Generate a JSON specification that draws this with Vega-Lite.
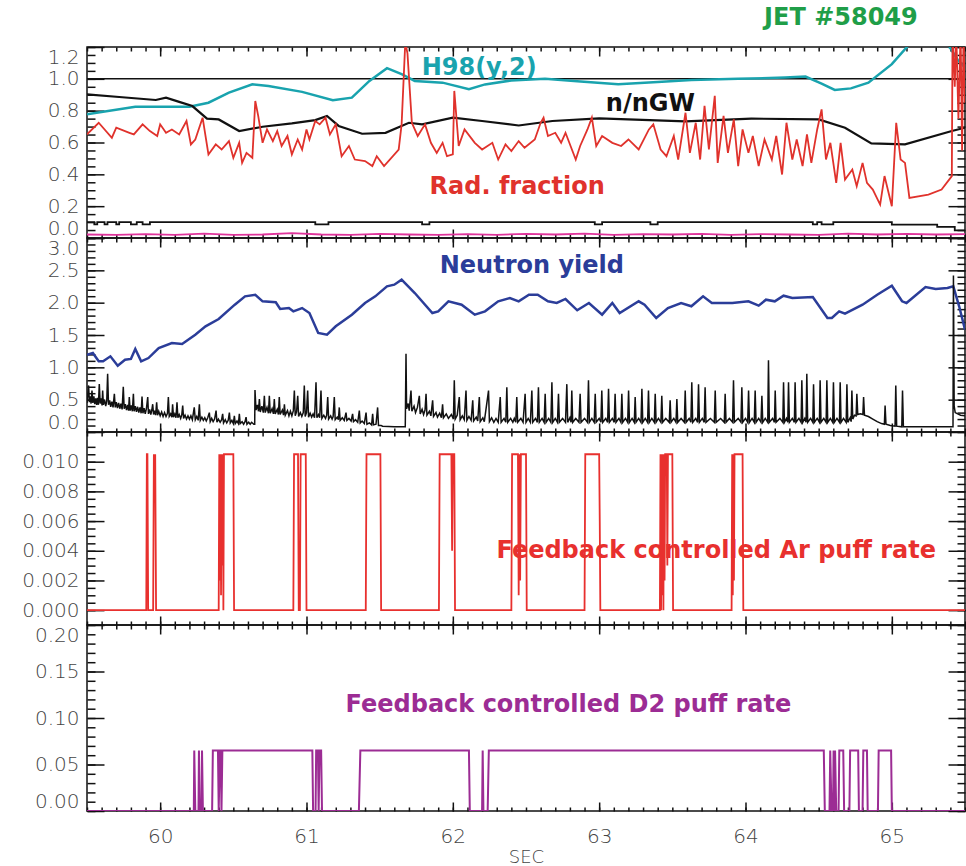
{
"$schema":"https://vega.github.io/schema/vega-lite/v6.json",
"background":"white",
"padding":{"left":20,"top":5,"right":3,"bottom":3},
"spacing":0,
"bounds":"flush",
"config":{
"view":{"stroke":"#111","strokeWidth":1.5},
"axis":{"zindex":2,"grid":false,"domain":false,"ticks":true,"tickColor":"#111","tickWidth":1.5,"tickOpacity":1,"tickRound":false,"labelFont":"DejaVu Sans","labelFontSize":20,"labelFontWeight":300,"labelColor":"#444","labelOverlap":false,"titleFont":"DejaVu Sans","titleFontWeight":300,"titleColor":"#444","titleFontSize":18},
"text":{"font":"DejaVu Sans","fontWeight":"bold","fontSize":24}
},
"datasets":{
"h98":[{"t":59.50,"v":0.777},{"t":59.83,"v":0.825},{"t":60.20,"v":0.825},{"t":60.33,"v":0.850},{"t":60.47,"v":0.913},{"t":60.63,"v":0.966},{"t":60.74,"v":0.955},{"t":60.97,"v":0.918},{"t":61.18,"v":0.865},{"t":61.31,"v":0.882},{"t":61.43,"v":0.987},{"t":61.55,"v":1.067},{"t":61.65,"v":1.029},{"t":61.74,"v":0.987},{"t":61.93,"v":0.976},{"t":62.11,"v":0.935},{"t":62.22,"v":0.965},{"t":62.40,"v":0.99},{"t":62.63,"v":1.0},{"t":62.85,"v":0.985},{"t":63.13,"v":0.966},{"t":63.40,"v":0.98},{"t":63.63,"v":0.993},{"t":63.95,"v":1.0},{"t":64.27,"v":1.008},{"t":64.41,"v":1.014},{"t":64.52,"v":0.97},{"t":64.61,"v":0.930},{"t":64.72,"v":0.94},{"t":64.84,"v":0.976},{"t":65.00,"v":1.092},{"t":65.11,"v":1.207},{"t":65.25,"v":1.40},{"t":65.39,"v":1.207},{"t":65.45,"v":1.12},{"t":65.50,"v":1.071}],
"ngw":[{"t":59.50,"v":0.903},{"t":59.72,"v":0.886},{"t":59.97,"v":0.867},{"t":60.04,"v":0.882},{"t":60.13,"v":0.855},{"t":60.22,"v":0.829},{"t":60.32,"v":0.750},{"t":60.40,"v":0.745},{"t":60.54,"v":0.672},{"t":60.70,"v":0.699},{"t":60.90,"v":0.720},{"t":61.06,"v":0.741},{"t":61.14,"v":0.767},{"t":61.22,"v":0.704},{"t":61.38,"v":0.655},{"t":61.54,"v":0.661},{"t":61.70,"v":0.724},{"t":61.79,"v":0.714},{"t":62.00,"v":0.756},{"t":62.20,"v":0.735},{"t":62.45,"v":0.707},{"t":62.68,"v":0.735},{"t":63.00,"v":0.751},{"t":63.59,"v":0.733},{"t":64.04,"v":0.750},{"t":64.50,"v":0.745},{"t":64.68,"v":0.693},{"t":64.86,"v":0.594},{"t":65.09,"v":0.588},{"t":65.41,"v":0.672},{"t":65.50,"v":0.693}],
"rad":[{"t":59.50,"v":0.651},{"t":59.58,"v":0.724},{"t":59.67,"v":0.630},{"t":59.70,"v":0.693},{"t":59.79,"v":0.661},{"t":59.82,"v":0.651},{"t":59.88,"v":0.714},{"t":59.93,"v":0.672},{"t":59.98,"v":0.641},{"t":60.00,"v":0.714},{"t":60.04,"v":0.661},{"t":60.08,"v":0.682},{"t":60.13,"v":0.651},{"t":60.18,"v":0.735},{"t":60.21,"v":0.588},{"t":60.24,"v":0.619},{"t":60.29,"v":0.756},{"t":60.33,"v":0.525},{"t":60.38,"v":0.588},{"t":60.42,"v":0.556},{"t":60.47,"v":0.609},{"t":60.50,"v":0.504},{"t":60.54,"v":0.598},{"t":60.56,"v":0.472},{"t":60.59,"v":0.535},{"t":60.63,"v":0.504},{"t":60.65,"v":0.861},{"t":60.67,"v":0.767},{"t":60.70,"v":0.598},{"t":60.73,"v":0.682},{"t":60.77,"v":0.609},{"t":60.80,"v":0.672},{"t":60.83,"v":0.578},{"t":60.87,"v":0.641},{"t":60.90,"v":0.525},{"t":60.94,"v":0.619},{"t":60.97,"v":0.556},{"t":61.00,"v":0.682},{"t":61.02,"v":0.619},{"t":61.06,"v":0.735},{"t":61.09,"v":0.714},{"t":61.13,"v":0.756},{"t":61.16,"v":0.651},{"t":61.20,"v":0.714},{"t":61.24,"v":0.514},{"t":61.29,"v":0.578},{"t":61.33,"v":0.493},{"t":61.40,"v":0.483},{"t":61.45,"v":0.452},{"t":61.48,"v":0.514},{"t":61.53,"v":0.452},{"t":61.63,"v":0.556},{"t":61.65,"v":0.714},{"t":61.675,"v":1.23},{"t":61.69,"v":1.16},{"t":61.72,"v":0.724},{"t":61.76,"v":0.641},{"t":61.81,"v":0.714},{"t":61.85,"v":0.598},{"t":61.89,"v":0.535},{"t":61.93,"v":0.598},{"t":61.96,"v":0.514},{"t":62.00,"v":0.525},{"t":62.01,"v":0.924},{"t":62.04,"v":0.578},{"t":62.08,"v":0.682},{"t":62.15,"v":0.598},{"t":62.20,"v":0.556},{"t":62.27,"v":0.598},{"t":62.31,"v":0.493},{"t":62.36,"v":0.588},{"t":62.40,"v":0.546},{"t":62.45,"v":0.609},{"t":62.49,"v":0.567},{"t":62.56,"v":0.619},{"t":62.60,"v":0.724},{"t":62.62,"v":0.756},{"t":62.65,"v":0.641},{"t":62.70,"v":0.661},{"t":62.74,"v":0.598},{"t":62.77,"v":0.661},{"t":62.84,"v":0.493},{"t":62.87,"v":0.578},{"t":62.92,"v":0.682},{"t":62.95,"v":0.756},{"t":62.98,"v":0.578},{"t":63.02,"v":0.641},{"t":63.09,"v":0.598},{"t":63.15,"v":0.578},{"t":63.20,"v":0.619},{"t":63.27,"v":0.556},{"t":63.34,"v":0.682},{"t":63.37,"v":0.714},{"t":63.42,"v":0.556},{"t":63.46,"v":0.514},{"t":63.51,"v":0.641},{"t":63.54,"v":0.493},{"t":63.59,"v":0.787},{"t":63.62,"v":0.535},{"t":63.66,"v":0.724},{"t":63.69,"v":0.493},{"t":63.72,"v":0.830},{"t":63.75,"v":0.556},{"t":63.79,"v":0.893},{"t":63.81,"v":0.472},{"t":63.85,"v":0.767},{"t":63.88,"v":0.535},{"t":63.92,"v":0.745},{"t":63.95,"v":0.452},{"t":63.98,"v":0.682},{"t":64.02,"v":0.535},{"t":64.05,"v":0.641},{"t":64.09,"v":0.452},{"t":64.13,"v":0.619},{"t":64.18,"v":0.493},{"t":64.21,"v":0.641},{"t":64.25,"v":0.399},{"t":64.28,"v":0.724},{"t":64.32,"v":0.493},{"t":64.35,"v":0.619},{"t":64.39,"v":0.452},{"t":64.42,"v":0.651},{"t":64.45,"v":0.472},{"t":64.49,"v":0.682},{"t":64.52,"v":0.808},{"t":64.55,"v":0.493},{"t":64.58,"v":0.598},{"t":64.62,"v":0.346},{"t":64.65,"v":0.598},{"t":64.68,"v":0.367},{"t":64.73,"v":0.430},{"t":64.76,"v":0.326},{"t":64.80,"v":0.472},{"t":64.83,"v":0.346},{"t":64.87,"v":0.304},{"t":64.92,"v":0.210},{"t":64.95,"v":0.389},{"t":65.00,"v":0.200},{"t":65.03,"v":0.724},{"t":65.06,"v":0.493},{"t":65.09,"v":0.472},{"t":65.12,"v":0.252},{"t":65.25,"v":0.273},{"t":65.34,"v":0.304},{"t":65.41,"v":0.389},{"t":65.415,"v":1.30},{"t":65.43,"v":0.95},{"t":65.44,"v":1.30},{"t":65.455,"v":0.75},{"t":65.47,"v":1.30},{"t":65.48,"v":0.55},{"t":65.49,"v":1.30},{"t":65.50,"v":0.85}],
"low":[{"t":59.50,"v":0.10},{"t":59.55,"v":0.086},{"t":59.57,"v":0.10},{"t":59.62,"v":0.086},{"t":59.64,"v":0.10},{"t":59.70,"v":0.086},{"t":59.72,"v":0.10},{"t":59.80,"v":0.086},{"t":59.84,"v":0.10},{"t":59.88,"v":0.086},{"t":59.93,"v":0.10},{"t":61.06,"v":0.086},{"t":61.15,"v":0.10},{"t":61.79,"v":0.086},{"t":61.84,"v":0.10},{"t":62.97,"v":0.086},{"t":63.02,"v":0.10},{"t":63.35,"v":0.086},{"t":63.40,"v":0.10},{"t":64.46,"v":0.086},{"t":64.49,"v":0.10},{"t":64.52,"v":0.086},{"t":64.60,"v":0.10},{"t":65.00,"v":0.084},{"t":65.31,"v":0.07},{"t":65.43,"v":0.048},{"t":65.50,"v":0.048}],
"mag":[{"t":59.5,"v":0.022},{"t":59.7,"v":0.020},{"t":59.9,"v":0.024},{"t":60.1,"v":0.020},{"t":60.3,"v":0.028},{"t":60.5,"v":0.020},{"t":60.7,"v":0.022},{"t":60.9,"v":0.030},{"t":61.1,"v":0.022},{"t":61.3,"v":0.020},{"t":61.5,"v":0.026},{"t":61.7,"v":0.022},{"t":61.9,"v":0.020},{"t":62.1,"v":0.024},{"t":62.3,"v":0.020},{"t":62.5,"v":0.026},{"t":62.7,"v":0.022},{"t":62.9,"v":0.028},{"t":63.1,"v":0.020},{"t":63.3,"v":0.024},{"t":63.5,"v":0.022},{"t":63.7,"v":0.026},{"t":63.9,"v":0.020},{"t":64.1,"v":0.024},{"t":64.3,"v":0.022},{"t":64.5,"v":0.020},{"t":64.7,"v":0.028},{"t":64.9,"v":0.022},{"t":65.1,"v":0.026},{"t":65.3,"v":0.022},{"t":65.5,"v":0.024}],
"neut":[{"t":59.50,"v":1.195},{"t":59.54,"v":1.222},{"t":59.58,"v":1.093},{"t":59.61,"v":1.093},{"t":59.66,"v":1.170},{"t":59.71,"v":1.026},{"t":59.76,"v":1.118},{"t":59.80,"v":1.13},{"t":59.83,"v":1.283},{"t":59.87,"v":1.093},{"t":59.92,"v":1.144},{"t":59.99,"v":1.299},{"t":60.08,"v":1.376},{"t":60.15,"v":1.361},{"t":60.24,"v":1.505},{"t":60.31,"v":1.634},{"t":60.40,"v":1.747},{"t":60.51,"v":1.969},{"t":60.58,"v":2.098},{"t":60.65,"v":2.123},{"t":60.70,"v":2.021},{"t":60.79,"v":2.006},{"t":60.82,"v":1.902},{"t":60.88,"v":1.917},{"t":60.91,"v":1.866},{"t":60.97,"v":1.917},{"t":61.02,"v":1.840},{"t":61.08,"v":1.531},{"t":61.14,"v":1.505},{"t":61.20,"v":1.634},{"t":61.31,"v":1.814},{"t":61.40,"v":1.995},{"t":61.47,"v":2.098},{"t":61.55,"v":2.253},{"t":61.60,"v":2.278},{"t":61.65,"v":2.355},{"t":61.74,"v":2.149},{"t":61.86,"v":1.840},{"t":61.90,"v":1.866},{"t":61.97,"v":2.021},{"t":62.06,"v":1.969},{"t":62.15,"v":1.814},{"t":62.22,"v":1.866},{"t":62.31,"v":2.021},{"t":62.39,"v":2.072},{"t":62.45,"v":2.021},{"t":62.52,"v":2.123},{"t":62.58,"v":2.123},{"t":62.65,"v":2.021},{"t":62.71,"v":1.995},{"t":62.77,"v":2.057},{"t":62.85,"v":1.882},{"t":62.93,"v":1.995},{"t":63.02,"v":1.814},{"t":63.09,"v":1.995},{"t":63.14,"v":1.840},{"t":63.27,"v":2.021},{"t":63.31,"v":1.969},{"t":63.39,"v":1.763},{"t":63.47,"v":1.917},{"t":63.56,"v":1.995},{"t":63.63,"v":1.944},{"t":63.71,"v":2.098},{"t":63.77,"v":1.995},{"t":63.91,"v":1.995},{"t":64.02,"v":2.021},{"t":64.09,"v":1.954},{"t":64.14,"v":2.046},{"t":64.20,"v":2.021},{"t":64.26,"v":2.108},{"t":64.32,"v":2.072},{"t":64.46,"v":2.088},{"t":64.56,"v":1.763},{"t":64.59,"v":1.763},{"t":64.64,"v":1.866},{"t":64.68,"v":1.830},{"t":64.80,"v":1.969},{"t":64.90,"v":2.123},{"t":65.00,"v":2.262},{"t":65.07,"v":2.021},{"t":65.10,"v":1.995},{"t":65.23,"v":2.242},{"t":65.30,"v":2.211},{"t":65.38,"v":2.227},{"t":65.42,"v":2.253},{"t":65.46,"v":1.944},{"t":65.50,"v":1.582}],
"raw":[{"t":59.500,"v":0.45},{"t":59.506,"v":0.60},{"t":59.511,"v":0.72},{"t":59.516,"v":0.46},{"t":59.522,"v":0.55},{"t":59.528,"v":0.44},{"t":59.534,"v":0.64},{"t":59.540,"v":0.45},{"t":59.547,"v":0.55},{"t":59.553,"v":0.43},{"t":59.560,"v":0.52},{"t":59.566,"v":0.42},{"t":59.572,"v":0.53},{"t":59.578,"v":0.42},{"t":59.584,"v":0.74},{"t":59.590,"v":0.44},{"t":59.597,"v":0.52},{"t":59.603,"v":0.41},{"t":59.607,"v":0.64},{"t":59.612,"v":0.42},{"t":59.620,"v":0.50},{"t":59.628,"v":0.40},{"t":59.635,"v":0.48},{"t":59.641,"v":0.90},{"t":59.647,"v":0.42},{"t":59.655,"v":0.49},{"t":59.662,"v":0.39},{"t":59.670,"v":0.47},{"t":59.678,"v":0.38},{"t":59.687,"v":0.59},{"t":59.693,"v":0.38},{"t":59.700,"v":0.46},{"t":59.708,"v":0.37},{"t":59.716,"v":0.45},{"t":59.724,"v":0.36},{"t":59.732,"v":0.44},{"t":59.740,"v":0.35},{"t":59.748,"v":0.70},{"t":59.754,"v":0.36},{"t":59.762,"v":0.43},{"t":59.770,"v":0.34},{"t":59.778,"v":0.42},{"t":59.784,"v":0.33},{"t":59.789,"v":0.54},{"t":59.795,"v":0.33},{"t":59.803,"v":0.41},{"t":59.810,"v":0.32},{"t":59.817,"v":0.59},{"t":59.822,"v":0.32},{"t":59.830,"v":0.40},{"t":59.838,"v":0.31},{"t":59.846,"v":0.39},{"t":59.854,"v":0.30},{"t":59.862,"v":0.38},{"t":59.870,"v":0.29},{"t":59.876,"v":0.55},{"t":59.882,"v":0.29},{"t":59.890,"v":0.37},{"t":59.898,"v":0.28},{"t":59.906,"v":0.36},{"t":59.915,"v":0.54},{"t":59.920,"v":0.28},{"t":59.928,"v":0.35},{"t":59.936,"v":0.27},{"t":59.943,"v":0.34},{"t":59.949,"v":0.43},{"t":59.955,"v":0.27},{"t":59.962,"v":0.33},{"t":59.969,"v":0.26},{"t":59.976,"v":0.46},{"t":59.982,"v":0.26},{"t":59.990,"v":0.32},{"t":60.000,"v":0.25},{"t":60.010,"v":0.31},{"t":60.020,"v":0.24},{"t":60.030,"v":0.30},{"t":60.040,"v":0.24},{"t":60.050,"v":0.29},{"t":60.056,"v":0.54},{"t":60.062,"v":0.24},{"t":60.072,"v":0.28},{"t":60.080,"v":0.23},{"t":60.085,"v":0.43},{"t":60.091,"v":0.23},{"t":60.100,"v":0.28},{"t":60.108,"v":0.22},{"t":60.115,"v":0.46},{"t":60.121,"v":0.22},{"t":60.130,"v":0.27},{"t":60.140,"v":0.21},{"t":60.148,"v":0.27},{"t":60.154,"v":0.41},{"t":60.160,"v":0.21},{"t":60.170,"v":0.26},{"t":60.180,"v":0.20},{"t":60.190,"v":0.25},{"t":60.200,"v":0.20},{"t":60.210,"v":0.25},{"t":60.220,"v":0.19},{"t":60.233,"v":0.38},{"t":60.240,"v":0.19},{"t":60.250,"v":0.24},{"t":60.260,"v":0.18},{"t":60.268,"v":0.43},{"t":60.274,"v":0.18},{"t":60.285,"v":0.23},{"t":60.295,"v":0.18},{"t":60.305,"v":0.22},{"t":60.315,"v":0.17},{"t":60.325,"v":0.22},{"t":60.336,"v":0.30},{"t":60.342,"v":0.16},{"t":60.352,"v":0.21},{"t":60.362,"v":0.16},{"t":60.372,"v":0.20},{"t":60.382,"v":0.33},{"t":60.388,"v":0.15},{"t":60.398,"v":0.20},{"t":60.410,"v":0.15},{"t":60.420,"v":0.19},{"t":60.427,"v":0.28},{"t":60.433,"v":0.14},{"t":60.445,"v":0.19},{"t":60.455,"v":0.14},{"t":60.465,"v":0.18},{"t":60.473,"v":0.30},{"t":60.479,"v":0.14},{"t":60.490,"v":0.18},{"t":60.500,"v":0.13},{"t":60.507,"v":0.25},{"t":60.513,"v":0.13},{"t":60.525,"v":0.17},{"t":60.535,"v":0.13},{"t":60.541,"v":0.28},{"t":60.547,"v":0.13},{"t":60.560,"v":0.16},{"t":60.570,"v":0.12},{"t":60.580,"v":0.16},{"t":60.587,"v":0.23},{"t":60.593,"v":0.12},{"t":60.605,"v":0.15},{"t":60.615,"v":0.12},{"t":60.625,"v":0.15},{"t":60.640,"v":0.12},{"t":60.646,"v":0.12},{"t":60.648,"v":0.65},{"t":60.655,"v":0.34},{"t":60.665,"v":0.42},{"t":60.672,"v":0.32},{"t":60.678,"v":0.51},{"t":60.684,"v":0.31},{"t":60.695,"v":0.40},{"t":60.705,"v":0.30},{"t":60.712,"v":0.56},{"t":60.718,"v":0.30},{"t":60.730,"v":0.38},{"t":60.740,"v":0.29},{"t":60.746,"v":0.56},{"t":60.752,"v":0.29},{"t":60.765,"v":0.36},{"t":60.774,"v":0.28},{"t":60.780,"v":0.51},{"t":60.786,"v":0.28},{"t":60.800,"v":0.35},{"t":60.808,"v":0.27},{"t":60.814,"v":0.54},{"t":60.820,"v":0.27},{"t":60.835,"v":0.34},{"t":60.843,"v":0.26},{"t":60.849,"v":0.43},{"t":60.855,"v":0.26},{"t":60.870,"v":0.33},{"t":60.880,"v":0.25},{"t":60.890,"v":0.32},{"t":60.900,"v":0.25},{"t":60.910,"v":0.33},{"t":60.917,"v":0.64},{"t":60.923,"v":0.25},{"t":60.932,"v":0.31},{"t":60.940,"v":0.56},{"t":60.946,"v":0.24},{"t":60.958,"v":0.30},{"t":60.968,"v":0.24},{"t":60.978,"v":0.30},{"t":60.985,"v":0.72},{"t":60.991,"v":0.24},{"t":61.000,"v":0.30},{"t":61.008,"v":0.64},{"t":61.014,"v":0.23},{"t":61.025,"v":0.29},{"t":61.035,"v":0.23},{"t":61.045,"v":0.28},{"t":61.055,"v":0.22},{"t":61.065,"v":0.77},{"t":61.071,"v":0.22},{"t":61.082,"v":0.27},{"t":61.090,"v":0.22},{"t":61.099,"v":0.64},{"t":61.105,"v":0.21},{"t":61.118,"v":0.26},{"t":61.130,"v":0.21},{"t":61.138,"v":0.26},{"t":61.145,"v":0.54},{"t":61.151,"v":0.20},{"t":61.165,"v":0.25},{"t":61.175,"v":0.20},{"t":61.182,"v":0.24},{"t":61.190,"v":0.54},{"t":61.196,"v":0.19},{"t":61.210,"v":0.23},{"t":61.218,"v":0.19},{"t":61.224,"v":0.38},{"t":61.230,"v":0.18},{"t":61.245,"v":0.22},{"t":61.258,"v":0.18},{"t":61.270,"v":0.30},{"t":61.276,"v":0.18},{"t":61.290,"v":0.21},{"t":61.305,"v":0.17},{"t":61.315,"v":0.28},{"t":61.321,"v":0.16},{"t":61.335,"v":0.19},{"t":61.350,"v":0.15},{"t":61.361,"v":0.33},{"t":61.367,"v":0.14},{"t":61.380,"v":0.17},{"t":61.395,"v":0.13},{"t":61.407,"v":0.30},{"t":61.413,"v":0.12},{"t":61.430,"v":0.14},{"t":61.445,"v":0.11},{"t":61.452,"v":0.28},{"t":61.458,"v":0.11},{"t":61.475,"v":0.12},{"t":61.486,"v":0.38},{"t":61.492,"v":0.10},{"t":61.510,"v":0.10},{"t":61.520,"v":0.09},{"t":61.600,"v":0.08},{"t":61.675,"v":0.08},{"t":61.680,"v":1.21},{"t":61.684,"v":0.36},{"t":61.695,"v":0.44},{"t":61.702,"v":0.33},{"t":61.714,"v":0.64},{"t":61.720,"v":0.32},{"t":61.735,"v":0.40},{"t":61.745,"v":0.30},{"t":61.758,"v":0.38},{"t":61.771,"v":0.56},{"t":61.777,"v":0.28},{"t":61.790,"v":0.35},{"t":61.800,"v":0.27},{"t":61.810,"v":0.34},{"t":61.817,"v":0.59},{"t":61.823,"v":0.26},{"t":61.840,"v":0.32},{"t":61.850,"v":0.25},{"t":61.862,"v":0.49},{"t":61.868,"v":0.24},{"t":61.885,"v":0.30},{"t":61.895,"v":0.23},{"t":61.910,"v":0.29},{"t":61.922,"v":0.22},{"t":61.930,"v":0.43},{"t":61.936,"v":0.22},{"t":61.955,"v":0.28},{"t":61.970,"v":0.21},{"t":61.990,"v":0.27},{"t":62.004,"v":0.20},{"t":62.010,"v":0.80},{"t":62.016,"v":0.20},{"t":62.030,"v":0.26},{"t":62.044,"v":0.54},{"t":62.050,"v":0.19},{"t":62.065,"v":0.25},{"t":62.078,"v":0.19},{"t":62.090,"v":0.64},{"t":62.096,"v":0.18},{"t":62.110,"v":0.24},{"t":62.125,"v":0.18},{"t":62.136,"v":0.49},{"t":62.142,"v":0.17},{"t":62.160,"v":0.23},{"t":62.170,"v":0.17},{"t":62.181,"v":0.54},{"t":62.187,"v":0.16},{"t":62.205,"v":0.22},{"t":62.215,"v":0.16},{"t":62.244,"v":0.64},{"t":62.250,"v":0.16},{"t":62.265,"v":0.22},{"t":62.280,"v":0.15},{"t":62.295,"v":0.21},{"t":62.310,"v":0.15},{"t":62.324,"v":0.54},{"t":62.330,"v":0.15},{"t":62.350,"v":0.21},{"t":62.362,"v":0.15},{"t":62.369,"v":0.69},{"t":62.375,"v":0.15},{"t":62.395,"v":0.21},{"t":62.410,"v":0.15},{"t":62.420,"v":0.21},{"t":62.430,"v":0.15},{"t":62.437,"v":0.54},{"t":62.443,"v":0.15},{"t":62.465,"v":0.21},{"t":62.480,"v":0.15},{"t":62.494,"v":0.59},{"t":62.500,"v":0.15},{"t":62.515,"v":0.21},{"t":62.530,"v":0.15},{"t":62.540,"v":0.64},{"t":62.546,"v":0.15},{"t":62.565,"v":0.21},{"t":62.578,"v":0.15},{"t":62.585,"v":0.69},{"t":62.591,"v":0.15},{"t":62.610,"v":0.21},{"t":62.624,"v":0.15},{"t":62.631,"v":0.59},{"t":62.637,"v":0.15},{"t":62.655,"v":0.21},{"t":62.670,"v":0.15},{"t":62.677,"v":0.77},{"t":62.683,"v":0.15},{"t":62.700,"v":0.21},{"t":62.715,"v":0.15},{"t":62.722,"v":0.59},{"t":62.728,"v":0.15},{"t":62.750,"v":0.21},{"t":62.770,"v":0.15},{"t":62.779,"v":0.74},{"t":62.785,"v":0.15},{"t":62.800,"v":0.22},{"t":62.808,"v":0.15},{"t":62.813,"v":0.64},{"t":62.819,"v":0.15},{"t":62.840,"v":0.21},{"t":62.862,"v":0.15},{"t":62.870,"v":0.59},{"t":62.876,"v":0.15},{"t":62.900,"v":0.21},{"t":62.920,"v":0.15},{"t":62.927,"v":0.80},{"t":62.933,"v":0.15},{"t":62.950,"v":0.21},{"t":62.966,"v":0.15},{"t":62.973,"v":0.59},{"t":62.979,"v":0.15},{"t":63.000,"v":0.21},{"t":63.012,"v":0.15},{"t":63.018,"v":0.64},{"t":63.024,"v":0.15},{"t":63.045,"v":0.21},{"t":63.058,"v":0.15},{"t":63.064,"v":0.67},{"t":63.070,"v":0.15},{"t":63.090,"v":0.21},{"t":63.103,"v":0.15},{"t":63.109,"v":0.59},{"t":63.115,"v":0.15},{"t":63.135,"v":0.21},{"t":63.149,"v":0.15},{"t":63.155,"v":0.59},{"t":63.161,"v":0.15},{"t":63.180,"v":0.21},{"t":63.195,"v":0.15},{"t":63.201,"v":0.64},{"t":63.207,"v":0.15},{"t":63.225,"v":0.21},{"t":63.240,"v":0.15},{"t":63.246,"v":0.54},{"t":63.252,"v":0.15},{"t":63.270,"v":0.21},{"t":63.286,"v":0.15},{"t":63.292,"v":0.67},{"t":63.298,"v":0.15},{"t":63.315,"v":0.21},{"t":63.331,"v":0.15},{"t":63.337,"v":0.64},{"t":63.343,"v":0.15},{"t":63.360,"v":0.21},{"t":63.377,"v":0.15},{"t":63.383,"v":0.59},{"t":63.389,"v":0.15},{"t":63.405,"v":0.21},{"t":63.422,"v":0.15},{"t":63.428,"v":0.56},{"t":63.434,"v":0.15},{"t":63.455,"v":0.21},{"t":63.479,"v":0.15},{"t":63.485,"v":0.49},{"t":63.491,"v":0.15},{"t":63.510,"v":0.21},{"t":63.525,"v":0.15},{"t":63.531,"v":0.51},{"t":63.537,"v":0.15},{"t":63.560,"v":0.21},{"t":63.582,"v":0.15},{"t":63.588,"v":0.64},{"t":63.594,"v":0.15},{"t":63.615,"v":0.21},{"t":63.627,"v":0.15},{"t":63.633,"v":0.77},{"t":63.639,"v":0.15},{"t":63.660,"v":0.21},{"t":63.673,"v":0.15},{"t":63.679,"v":0.74},{"t":63.685,"v":0.15},{"t":63.705,"v":0.21},{"t":63.718,"v":0.15},{"t":63.724,"v":0.69},{"t":63.730,"v":0.15},{"t":63.760,"v":0.21},{"t":63.787,"v":0.15},{"t":63.793,"v":0.64},{"t":63.799,"v":0.15},{"t":63.830,"v":0.21},{"t":63.855,"v":0.15},{"t":63.861,"v":0.59},{"t":63.867,"v":0.15},{"t":63.890,"v":0.21},{"t":63.912,"v":0.15},{"t":63.918,"v":0.80},{"t":63.924,"v":0.15},{"t":63.950,"v":0.21},{"t":63.969,"v":0.15},{"t":63.975,"v":0.69},{"t":63.981,"v":0.15},{"t":64.000,"v":0.21},{"t":64.015,"v":0.15},{"t":64.021,"v":0.64},{"t":64.027,"v":0.15},{"t":64.045,"v":0.21},{"t":64.060,"v":0.15},{"t":64.066,"v":0.64},{"t":64.072,"v":0.15},{"t":64.090,"v":0.21},{"t":64.106,"v":0.15},{"t":64.112,"v":0.56},{"t":64.118,"v":0.15},{"t":64.135,"v":0.21},{"t":64.152,"v":0.15},{"t":64.157,"v":1.11},{"t":64.163,"v":0.15},{"t":64.185,"v":0.21},{"t":64.198,"v":0.15},{"t":64.203,"v":0.64},{"t":64.209,"v":0.15},{"t":64.235,"v":0.21},{"t":64.255,"v":0.15},{"t":64.260,"v":0.77},{"t":64.266,"v":0.15},{"t":64.280,"v":0.21},{"t":64.289,"v":0.15},{"t":64.294,"v":0.77},{"t":64.300,"v":0.15},{"t":64.320,"v":0.21},{"t":64.334,"v":0.15},{"t":64.339,"v":0.77},{"t":64.345,"v":0.15},{"t":64.365,"v":0.21},{"t":64.380,"v":0.15},{"t":64.385,"v":0.80},{"t":64.391,"v":0.15},{"t":64.405,"v":0.21},{"t":64.414,"v":0.15},{"t":64.419,"v":0.90},{"t":64.425,"v":0.15},{"t":64.445,"v":0.21},{"t":64.460,"v":0.15},{"t":64.465,"v":0.74},{"t":64.471,"v":0.15},{"t":64.490,"v":0.21},{"t":64.505,"v":0.15},{"t":64.510,"v":0.80},{"t":64.516,"v":0.15},{"t":64.535,"v":0.21},{"t":64.551,"v":0.15},{"t":64.556,"v":0.80},{"t":64.562,"v":0.15},{"t":64.580,"v":0.21},{"t":64.596,"v":0.15},{"t":64.601,"v":0.77},{"t":64.607,"v":0.15},{"t":64.625,"v":0.21},{"t":64.642,"v":0.15},{"t":64.647,"v":0.77},{"t":64.653,"v":0.15},{"t":64.670,"v":0.21},{"t":64.688,"v":0.15},{"t":64.693,"v":0.74},{"t":64.699,"v":0.15},{"t":64.715,"v":0.22},{"t":64.722,"v":0.16},{"t":64.727,"v":0.64},{"t":64.733,"v":0.20},{"t":64.745,"v":0.26},{"t":64.756,"v":0.25},{"t":64.761,"v":0.59},{"t":64.767,"v":0.27},{"t":64.785,"v":0.28},{"t":64.802,"v":0.27},{"t":64.807,"v":0.54},{"t":64.813,"v":0.26},{"t":64.840,"v":0.24},{"t":64.870,"v":0.20},{"t":64.900,"v":0.16},{"t":64.930,"v":0.13},{"t":64.949,"v":0.12},{"t":64.954,"v":0.41},{"t":64.960,"v":0.12},{"t":64.990,"v":0.10},{"t":65.022,"v":0.09},{"t":65.027,"v":0.72},{"t":65.033,"v":0.09},{"t":65.068,"v":0.08},{"t":65.073,"v":0.64},{"t":65.079,"v":0.08},{"t":65.100,"v":0.08},{"t":65.200,"v":0.08},{"t":65.300,"v":0.08},{"t":65.418,"v":0.08},{"t":65.421,"v":2.42},{"t":65.426,"v":0.40},{"t":65.433,"v":0.30},{"t":65.450,"v":0.28},{"t":65.470,"v":0.26},{"t":65.500,"v":0.25}],
"ar":[{"t":59.5,"v":0},{"t":59.905,"v":0},{"t":59.909,"v":0.0105},{"t":59.913,"v":0.0105},{"t":59.918,"v":0},{"t":59.952,"v":0},{"t":59.957,"v":0.0105},{"t":59.962,"v":0.0082},{"t":59.966,"v":0.0105},{"t":59.972,"v":0},{"t":60.400,"v":0},{"t":60.404,"v":0.0105},{"t":60.408,"v":0.002},{"t":60.412,"v":0.0105},{"t":60.416,"v":0.001},{"t":60.420,"v":0.0105},{"t":60.424,"v":0.003},{"t":60.428,"v":0.0105},{"t":60.432,"v":0},{"t":60.436,"v":0.0105},{"t":60.500,"v":0.0105},{"t":60.505,"v":0},{"t":60.910,"v":0},{"t":60.915,"v":0.0105},{"t":60.942,"v":0.0105},{"t":60.947,"v":0},{"t":60.955,"v":0},{"t":60.960,"v":0.0105},{"t":60.995,"v":0.0105},{"t":61.000,"v":0},{"t":61.405,"v":0},{"t":61.410,"v":0.0105},{"t":61.505,"v":0.0105},{"t":61.510,"v":0},{"t":61.905,"v":0},{"t":61.910,"v":0.0105},{"t":61.990,"v":0.0105},{"t":61.995,"v":0.004},{"t":62.000,"v":0.0105},{"t":62.010,"v":0.0105},{"t":62.015,"v":0},{"t":62.400,"v":0},{"t":62.405,"v":0.0105},{"t":62.445,"v":0.0105},{"t":62.450,"v":0.001},{"t":62.455,"v":0.0105},{"t":62.460,"v":0.002},{"t":62.465,"v":0.0105},{"t":62.500,"v":0.0105},{"t":62.505,"v":0},{"t":62.900,"v":0},{"t":62.905,"v":0.0105},{"t":63.000,"v":0.0105},{"t":63.004,"v":0.006},{"t":63.008,"v":0},{"t":63.415,"v":0},{"t":63.419,"v":0.0105},{"t":63.423,"v":0},{"t":63.427,"v":0.0105},{"t":63.431,"v":0.001},{"t":63.435,"v":0.0105},{"t":63.439,"v":0},{"t":63.443,"v":0.0105},{"t":63.447,"v":0.002},{"t":63.451,"v":0.0105},{"t":63.462,"v":0.0105},{"t":63.466,"v":0.003},{"t":63.470,"v":0.0105},{"t":63.500,"v":0.0105},{"t":63.505,"v":0},{"t":63.905,"v":0},{"t":63.909,"v":0.0105},{"t":63.913,"v":0.001},{"t":63.917,"v":0.0105},{"t":63.921,"v":0.002},{"t":63.925,"v":0.0105},{"t":63.980,"v":0.0105},{"t":63.985,"v":0},{"t":65.5,"v":0}],
"d2":[{"t":59.5,"v":0},{"t":60.230,"v":0},{"t":60.233,"v":0.065},{"t":60.240,"v":0},{"t":60.262,"v":0},{"t":60.265,"v":0.065},{"t":60.271,"v":0},{"t":60.283,"v":0},{"t":60.286,"v":0.065},{"t":60.292,"v":0},{"t":60.355,"v":0},{"t":60.360,"v":0.065},{"t":60.395,"v":0.065},{"t":60.400,"v":0},{"t":60.408,"v":0.065},{"t":60.414,"v":0.065},{"t":60.419,"v":0},{"t":60.425,"v":0.065},{"t":61.040,"v":0.065},{"t":61.045,"v":0},{"t":61.062,"v":0},{"t":61.066,"v":0.065},{"t":61.078,"v":0.065},{"t":61.083,"v":0},{"t":61.089,"v":0.065},{"t":61.100,"v":0.065},{"t":61.106,"v":0},{"t":61.358,"v":0},{"t":61.368,"v":0.065},{"t":62.110,"v":0.065},{"t":62.116,"v":0},{"t":62.200,"v":0},{"t":62.204,"v":0.065},{"t":62.209,"v":0},{"t":62.238,"v":0},{"t":62.246,"v":0.065},{"t":64.535,"v":0.065},{"t":64.542,"v":0},{"t":64.574,"v":0},{"t":64.579,"v":0.065},{"t":64.588,"v":0},{"t":64.598,"v":0},{"t":64.602,"v":0.065},{"t":64.607,"v":0},{"t":64.612,"v":0.065},{"t":64.620,"v":0},{"t":64.636,"v":0},{"t":64.641,"v":0.065},{"t":64.668,"v":0.065},{"t":64.674,"v":0},{"t":64.710,"v":0},{"t":64.715,"v":0.065},{"t":64.770,"v":0.065},{"t":64.775,"v":0},{"t":64.800,"v":0},{"t":64.805,"v":0.065},{"t":64.830,"v":0.065},{"t":64.835,"v":0},{"t":64.905,"v":0},{"t":64.910,"v":0.065},{"t":64.995,"v":0.065},{"t":65.000,"v":0},{"t":65.5,"v":0}]
},
"vconcat":[
{
"width":878,"height":191,
"title":{"text":"JET #58049","anchor":"end","color":"#1f9e48","font":"DejaVu Sans","fontSize":24,"fontWeight":"bold","offset":16,"dx":-48},
"resolve":{"axis":{"x":"independent","y":"independent"}},
"layer":[
{"data":{"values":[{"level":1}]},"mark":{"type":"rule","color":"#111","strokeWidth":1.5},"encoding":{"y":{"field":"level","type":"quantitative","scale":{"domain":[0,1.2]},"axis":null}}},
{"data":{"name":"h98"},"mark":{"type":"line","color":"#19a3ae","strokeWidth":2.5,"clip":true},
"encoding":{"x":{"field":"t","type":"quantitative","scale":{"domain":[59.5,65.5]},"axis":{"orient":"bottom","values":[60,61,62,63,64,65],"offset":-9,"tickSize":9,"labels":false,"title":null}},
"y":{"field":"v","type":"quantitative","scale":{"domain":[0,1.2]},"axis":{"orient":"left","values":[0,0.2,0.4,0.6,0.8,1,1.2],"offset":-17,"tickSize":17,"format":".1f","labelPadding":8,"labelFlush":true,"title":null}}}},
{"data":{"name":"ngw"},"mark":{"type":"line","color":"#111","strokeWidth":2.2,"clip":true},
"encoding":{"x":{"field":"t","type":"quantitative","scale":{"domain":[59.5,65.5]},"axis":{"orient":"top","values":[60,61,62,63,64,65],"offset":-9,"tickSize":9,"labels":false,"title":null}},
"y":{"field":"v","type":"quantitative","scale":{"domain":[0,1.2]},"axis":{"orient":"right","values":[0,0.2,0.4,0.6,0.8,1,1.2],"offset":-17,"tickSize":17,"labels":false,"title":null}}}},
{"data":{"name":"mag"},"mark":{"type":"line","color":"#e0359c","strokeWidth":1.8,"clip":true},
"encoding":{"x":{"field":"t","type":"quantitative","scale":{"domain":[59.5,65.5]},"axis":{"orient":"bottom","values":[59.5,59.6,59.7,59.8,59.9,60,60.1,60.2,60.3,60.4,60.5,60.6,60.7,60.8,60.9,61,61.1,61.2,61.3,61.4,61.5,61.6,61.7,61.8,61.9,62,62.1,62.2,62.3,62.4,62.5,62.6,62.7,62.8,62.9,63,63.1,63.2,63.3,63.4,63.5,63.6,63.7,63.8,63.9,64,64.1,64.2,64.3,64.4,64.5,64.6,64.7,64.8,64.9,65,65.1,65.2,65.3,65.4,65.5],"offset":-4,"tickSize":4,"labels":false,"title":null}},
"y":{"field":"v","type":"quantitative","scale":{"domain":[0,1.2]},"axis":{"orient":"left","values":[0,0.05,0.1,0.15,0.2,0.25,0.3,0.35,0.4,0.45,0.5,0.55,0.6,0.65,0.7,0.75,0.8,0.85,0.9,0.95,1,1.05,1.1,1.15,1.2],"offset":-8,"tickSize":8,"labels":false,"title":null}}}},
{"data":{"name":"low"},"mark":{"type":"line","color":"#111","strokeWidth":1.8,"interpolate":"step-after","clip":true},
"encoding":{"x":{"field":"t","type":"quantitative","scale":{"domain":[59.5,65.5]},"axis":{"orient":"top","values":[59.5,59.6,59.7,59.8,59.9,60,60.1,60.2,60.3,60.4,60.5,60.6,60.7,60.8,60.9,61,61.1,61.2,61.3,61.4,61.5,61.6,61.7,61.8,61.9,62,62.1,62.2,62.3,62.4,62.5,62.6,62.7,62.8,62.9,63,63.1,63.2,63.3,63.4,63.5,63.6,63.7,63.8,63.9,64,64.1,64.2,64.3,64.4,64.5,64.6,64.7,64.8,64.9,65,65.1,65.2,65.3,65.4,65.5],"offset":-4,"tickSize":4,"labels":false,"title":null}},
"y":{"field":"v","type":"quantitative","scale":{"domain":[0,1.2]},"axis":{"orient":"right","values":[0,0.05,0.1,0.15,0.2,0.25,0.3,0.35,0.4,0.45,0.5,0.55,0.6,0.65,0.7,0.75,0.8,0.85,0.9,0.95,1,1.05,1.1,1.15,1.2],"offset":-8,"tickSize":8,"labels":false,"title":null}}}},
{"data":{"name":"rad"},"mark":{"type":"line","color":"#e0322c","strokeWidth":1.8,"clip":true},"encoding":{"x":{"field":"t","type":"quantitative","axis":null},"y":{"field":"v","type":"quantitative","axis":null}}},
{"data":{"values":[{"label":"H98(y,2)"}]},"mark":{"type":"text","color":"#19a3ae"},"encoding":{"x":{"datum":62.18,"type":"quantitative","axis":null},"y":{"datum":1.065,"type":"quantitative","axis":null},"text":{"field":"label"}}},
{"data":{"values":[{"label":"n/nGW"}]},"mark":{"type":"text","color":"#111"},"encoding":{"x":{"datum":63.35,"type":"quantitative","axis":null},"y":{"datum":0.84,"type":"quantitative","axis":null},"text":{"field":"label"}}},
{"data":{"values":[{"label":"Rad. fraction"}]},"mark":{"type":"text","color":"#e0322c"},"encoding":{"x":{"datum":62.44,"type":"quantitative","axis":null},"y":{"datum":0.32,"type":"quantitative","axis":null},"text":{"field":"label"}}}
]
},
{
"width":878,"height":194,
"resolve":{"axis":{"x":"independent","y":"independent"}},
"layer":[
{"data":{"name":"neut"},"mark":{"type":"line","color":"#2b3d99","strokeWidth":2.5,"clip":true},
"encoding":{"x":{"field":"t","type":"quantitative","scale":{"domain":[59.5,65.5]},"axis":{"orient":"bottom","values":[60,61,62,63,64,65],"offset":-9,"tickSize":9,"labels":false,"title":null}},
"y":{"field":"v","type":"quantitative","scale":{"domain":[0,3]},"axis":{"orient":"left","values":[0,0.5,1,1.5,2,2.5,3],"offset":-17,"tickSize":17,"format":".1f","labelPadding":8,"labelFlush":true,"title":null}}}},
{"data":{"name":"raw"},"mark":{"type":"line","color":"#111","strokeWidth":1.5,"clip":true},
"encoding":{"x":{"field":"t","type":"quantitative","scale":{"domain":[59.5,65.5]},"axis":{"orient":"top","values":[60,61,62,63,64,65],"offset":-9,"tickSize":9,"labels":false,"title":null}},
"y":{"field":"v","type":"quantitative","scale":{"domain":[0,3]},"axis":{"orient":"right","values":[0,0.5,1,1.5,2,2.5,3],"offset":-17,"tickSize":17,"labels":false,"title":null}}}},
{"data":{"name":"neut"},"mark":{"type":"line","opacity":0},
"encoding":{"x":{"field":"t","type":"quantitative","scale":{"domain":[59.5,65.5]},"axis":{"orient":"bottom","values":[59.5,59.6,59.7,59.8,59.9,60,60.1,60.2,60.3,60.4,60.5,60.6,60.7,60.8,60.9,61,61.1,61.2,61.3,61.4,61.5,61.6,61.7,61.8,61.9,62,62.1,62.2,62.3,62.4,62.5,62.6,62.7,62.8,62.9,63,63.1,63.2,63.3,63.4,63.5,63.6,63.7,63.8,63.9,64,64.1,64.2,64.3,64.4,64.5,64.6,64.7,64.8,64.9,65,65.1,65.2,65.3,65.4,65.5],"offset":-4,"tickSize":4,"labels":false,"title":null}},
"y":{"field":"v","type":"quantitative","scale":{"domain":[0,3]},"axis":{"orient":"left","values":[0,0.1,0.2,0.3,0.4,0.5,0.6,0.7,0.8,0.9,1,1.1,1.2,1.3,1.4,1.5,1.6,1.7,1.8,1.9,2,2.1,2.2,2.3,2.4,2.5,2.6,2.7,2.8,2.9,3],"offset":-8,"tickSize":8,"labels":false,"title":null}}}},
{"data":{"name":"neut"},"mark":{"type":"line","opacity":0},
"encoding":{"x":{"field":"t","type":"quantitative","scale":{"domain":[59.5,65.5]},"axis":{"orient":"top","values":[59.5,59.6,59.7,59.8,59.9,60,60.1,60.2,60.3,60.4,60.5,60.6,60.7,60.8,60.9,61,61.1,61.2,61.3,61.4,61.5,61.6,61.7,61.8,61.9,62,62.1,62.2,62.3,62.4,62.5,62.6,62.7,62.8,62.9,63,63.1,63.2,63.3,63.4,63.5,63.6,63.7,63.8,63.9,64,64.1,64.2,64.3,64.4,64.5,64.6,64.7,64.8,64.9,65,65.1,65.2,65.3,65.4,65.5],"offset":-4,"tickSize":4,"labels":false,"title":null}},
"y":{"field":"v","type":"quantitative","scale":{"domain":[0,3]},"axis":{"orient":"right","values":[0,0.1,0.2,0.3,0.4,0.5,0.6,0.7,0.8,0.9,1,1.1,1.2,1.3,1.4,1.5,1.6,1.7,1.8,1.9,2,2.1,2.2,2.3,2.4,2.5,2.6,2.7,2.8,2.9,3],"offset":-8,"tickSize":8,"labels":false,"title":null}}}},
{"data":{"values":[{"label":"Neutron yield"}]},"mark":{"type":"text","color":"#2b3d99"},"encoding":{"x":{"datum":62.54,"type":"quantitative","axis":null},"y":{"datum":2.56,"type":"quantitative","axis":null},"text":{"field":"label"}}}
]
},
{
"width":878,"height":193,
"resolve":{"axis":{"x":"independent","y":"independent"}},
"layer":[
{"data":{"name":"ar"},"mark":{"type":"line","color":"#e8302e","strokeWidth":1.8,"clip":true},
"encoding":{"x":{"field":"t","type":"quantitative","scale":{"domain":[59.5,65.5]},"axis":{"orient":"bottom","values":[60,61,62,63,64,65],"offset":-9,"tickSize":9,"labels":false,"title":null}},
"y":{"field":"v","type":"quantitative","scale":{"domain":[-0.00055,0.01117]},"axis":{"orient":"left","values":[0,0.002,0.004,0.006,0.008,0.01],"offset":-17,"tickSize":17,"format":".3f","labelPadding":8,"labelFlush":true,"title":null}}}},
{"data":{"name":"ar"},"mark":{"type":"line","opacity":0},
"encoding":{"x":{"field":"t","type":"quantitative","scale":{"domain":[59.5,65.5]},"axis":{"orient":"top","values":[60,61,62,63,64,65],"offset":-9,"tickSize":9,"labels":false,"title":null}},
"y":{"field":"v","type":"quantitative","scale":{"domain":[-0.00055,0.01117]},"axis":{"orient":"right","values":[0,0.002,0.004,0.006,0.008,0.01],"offset":-17,"tickSize":17,"labels":false,"title":null}}}},
{"data":{"name":"ar"},"mark":{"type":"line","opacity":0},
"encoding":{"x":{"field":"t","type":"quantitative","scale":{"domain":[59.5,65.5]},"axis":{"orient":"bottom","values":[59.5,59.6,59.7,59.8,59.9,60,60.1,60.2,60.3,60.4,60.5,60.6,60.7,60.8,60.9,61,61.1,61.2,61.3,61.4,61.5,61.6,61.7,61.8,61.9,62,62.1,62.2,62.3,62.4,62.5,62.6,62.7,62.8,62.9,63,63.1,63.2,63.3,63.4,63.5,63.6,63.7,63.8,63.9,64,64.1,64.2,64.3,64.4,64.5,64.6,64.7,64.8,64.9,65,65.1,65.2,65.3,65.4,65.5],"offset":-4,"tickSize":4,"labels":false,"title":null}},
"y":{"field":"v","type":"quantitative","scale":{"domain":[-0.00055,0.01117]},"axis":{"orient":"left","values":[0,0.0005,0.001,0.0015,0.002,0.0025,0.003,0.0035,0.004,0.0045,0.005,0.0055,0.006,0.0065,0.007,0.0075,0.008,0.0085,0.009,0.0095,0.01,0.0105,0.011],"offset":-8,"tickSize":8,"labels":false,"title":null}}}},
{"data":{"name":"ar"},"mark":{"type":"line","opacity":0},
"encoding":{"x":{"field":"t","type":"quantitative","scale":{"domain":[59.5,65.5]},"axis":{"orient":"top","values":[59.5,59.6,59.7,59.8,59.9,60,60.1,60.2,60.3,60.4,60.5,60.6,60.7,60.8,60.9,61,61.1,61.2,61.3,61.4,61.5,61.6,61.7,61.8,61.9,62,62.1,62.2,62.3,62.4,62.5,62.6,62.7,62.8,62.9,63,63.1,63.2,63.3,63.4,63.5,63.6,63.7,63.8,63.9,64,64.1,64.2,64.3,64.4,64.5,64.6,64.7,64.8,64.9,65,65.1,65.2,65.3,65.4,65.5],"offset":-4,"tickSize":4,"labels":false,"title":null}},
"y":{"field":"v","type":"quantitative","scale":{"domain":[-0.00055,0.01117]},"axis":{"orient":"right","values":[0,0.0005,0.001,0.0015,0.002,0.0025,0.003,0.0035,0.004,0.0045,0.005,0.0055,0.006,0.0065,0.007,0.0075,0.008,0.0085,0.009,0.0095,0.01,0.0105,0.011],"offset":-8,"tickSize":8,"labels":false,"title":null}}}},
{"data":{"values":[{"label":"Feedback controlled Ar puff rate"}]},"mark":{"type":"text","color":"#e8302e"},"encoding":{"x":{"datum":63.80,"type":"quantitative","axis":null},"y":{"datum":0.004,"type":"quantitative","axis":null},"text":{"field":"label"}}}
]
},
{
"width":878,"height":186,
"resolve":{"axis":{"x":"independent","y":"independent"}},
"layer":[
{"data":{"name":"d2"},"mark":{"type":"line","color":"#9c2c94","strokeWidth":2,"clip":true},
"encoding":{"x":{"field":"t","type":"quantitative","scale":{"domain":[59.5,65.5]},"axis":{"orient":"bottom","values":[60,61,62,63,64,65],"offset":-9,"tickSize":9,"format":"d","labelPadding":15,"labelFlush":false,"title":"SEC","titlePadding":2}},
"y":{"field":"v","type":"quantitative","scale":{"domain":[0,0.2]},"axis":{"orient":"left","values":[0,0.05,0.1,0.15,0.2],"offset":-17,"tickSize":17,"format":".2f","labelPadding":8,"labelFlush":true,"title":null}}}},
{"data":{"name":"d2"},"mark":{"type":"line","opacity":0},
"encoding":{"x":{"field":"t","type":"quantitative","scale":{"domain":[59.5,65.5]},"axis":{"orient":"top","values":[60,61,62,63,64,65],"offset":-9,"tickSize":9,"labels":false,"title":null}},
"y":{"field":"v","type":"quantitative","scale":{"domain":[0,0.2]},"axis":{"orient":"right","values":[0,0.05,0.1,0.15,0.2],"offset":-17,"tickSize":17,"labels":false,"title":null}}}},
{"data":{"name":"d2"},"mark":{"type":"line","opacity":0},
"encoding":{"x":{"field":"t","type":"quantitative","scale":{"domain":[59.5,65.5]},"axis":{"orient":"bottom","values":[59.5,59.6,59.7,59.8,59.9,60,60.1,60.2,60.3,60.4,60.5,60.6,60.7,60.8,60.9,61,61.1,61.2,61.3,61.4,61.5,61.6,61.7,61.8,61.9,62,62.1,62.2,62.3,62.4,62.5,62.6,62.7,62.8,62.9,63,63.1,63.2,63.3,63.4,63.5,63.6,63.7,63.8,63.9,64,64.1,64.2,64.3,64.4,64.5,64.6,64.7,64.8,64.9,65,65.1,65.2,65.3,65.4,65.5],"offset":-4,"tickSize":4,"labels":false,"title":null}},
"y":{"field":"v","type":"quantitative","scale":{"domain":[0,0.2]},"axis":{"orient":"left","values":[0,0.01,0.02,0.03,0.04,0.05,0.06,0.07,0.08,0.09,0.1,0.11,0.12,0.13,0.14,0.15,0.16,0.17,0.18,0.19,0.2],"offset":-8,"tickSize":8,"labels":false,"title":null}}}},
{"data":{"name":"d2"},"mark":{"type":"line","opacity":0},
"encoding":{"x":{"field":"t","type":"quantitative","scale":{"domain":[59.5,65.5]},"axis":{"orient":"top","values":[59.5,59.6,59.7,59.8,59.9,60,60.1,60.2,60.3,60.4,60.5,60.6,60.7,60.8,60.9,61,61.1,61.2,61.3,61.4,61.5,61.6,61.7,61.8,61.9,62,62.1,62.2,62.3,62.4,62.5,62.6,62.7,62.8,62.9,63,63.1,63.2,63.3,63.4,63.5,63.6,63.7,63.8,63.9,64,64.1,64.2,64.3,64.4,64.5,64.6,64.7,64.8,64.9,65,65.1,65.2,65.3,65.4,65.5],"offset":-4,"tickSize":4,"labels":false,"title":null}},
"y":{"field":"v","type":"quantitative","scale":{"domain":[0,0.2]},"axis":{"orient":"right","values":[0,0.01,0.02,0.03,0.04,0.05,0.06,0.07,0.08,0.09,0.1,0.11,0.12,0.13,0.14,0.15,0.16,0.17,0.18,0.19,0.2],"offset":-8,"tickSize":8,"labels":false,"title":null}}}},
{"data":{"values":[{"label":"Feedback controlled D2 puff rate"}]},"mark":{"type":"text","color":"#9c2c94"},"encoding":{"x":{"datum":62.79,"type":"quantitative","axis":null},"y":{"datum":0.114,"type":"quantitative","axis":null},"text":{"field":"label"}}}
]
}
]
}
